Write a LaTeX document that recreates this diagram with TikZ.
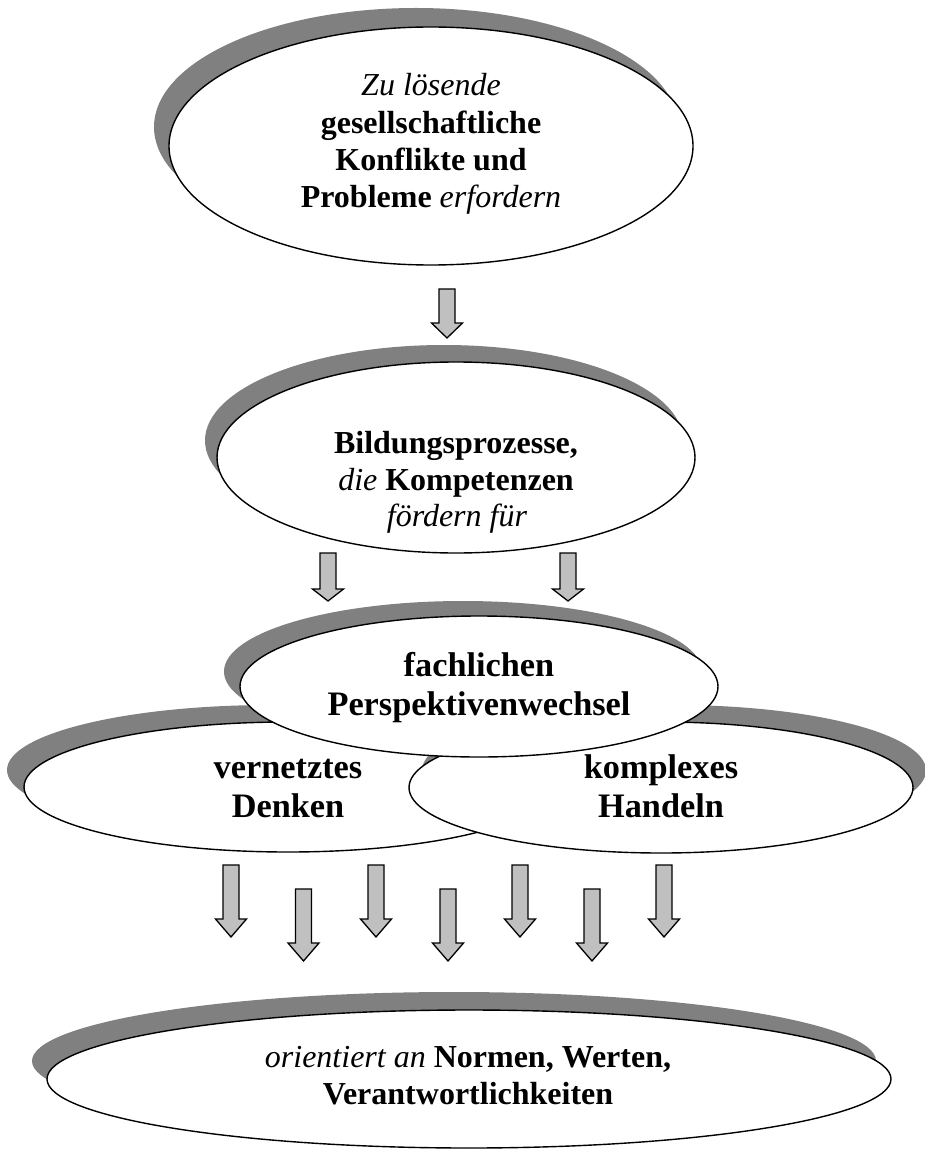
\documentclass[tikz,border=0pt]{standalone}
\usepackage{fontspec}
\setmainfont{Liberation Serif}
\usetikzlibrary{shapes.geometric,shadows}
\definecolor{shadowgray}{HTML}{808080}
\definecolor{arrowgray}{HTML}{C0C0C0}
\newcommand\blkarrow[4]{%
  \draw[blkarrowstyle] ({#1-8},#2) -- ({#1+8},#2) -- ({#1+8},#3) -- ({#1+15.5},#3)
    -- (#1,#4) -- ({#1-15.5},#3) -- ({#1-8},#3) -- cycle;}
\begin{document}
\begin{tikzpicture}[x=1pt,y=-1pt,
  oval/.style={ellipse, draw=black, line width=1.4pt, fill=white, inner sep=0pt, outer sep=0pt},
  shad/.style 2 args={drop shadow={shadow xshift=#1, shadow yshift=#2, opacity=1, fill=shadowgray}},
  lbl/.style={anchor=base, inner sep=0pt, font=\fontsize{32}{37}\selectfont},
  lblbig/.style={anchor=base, inner sep=0pt, font=\fontsize{34.3}{39}\selectfont},
  blkarrowstyle/.style={draw=black, fill=arrowgray, line width=1.3pt, line join=miter}]
\useasboundingbox (0,0) rectangle (925,1150);

% top ellipse
\node[oval, shad={-15pt}{19pt}, minimum width=524pt, minimum height=238pt] (e1) at (431,146) {};
\node[lbl] (t1a) at (431,96) {\textit{Zu lösende}};
\node[lbl] (t1b) at (431,133.5) {\textbf{gesellschaftliche}};
\node[lbl] (t1c) at (431,171) {\textbf{Konflikte und}};
\node[lbl] (t1d) at (431,208) {\textbf{Probleme} \textit{erfordern}};

\blkarrow{447}{289}{323}{338}

% second ellipse
\node[oval, shad={-12pt}{17pt}, minimum width=478pt, minimum height=191pt] (e2) at (456,457.5) {};
\node[lbl] (t2a) at (456,453) {\textbf{Bildungsprozesse,}};
\node[lbl] (t2b) at (456,490) {\textit{die} \textbf{Kompetenzen}};
\node[lbl] (t2c) at (457,526) {\textit{fördern für}};

\blkarrow{328}{553}{589}{601}
\blkarrow{568}{553}{589}{601}

% cluster
\node[oval, shad={-17pt}{17pt}, minimum width=528pt, minimum height=130pt] (e4) at (288,787) {};
\node[oval, shad={13pt}{17pt}, minimum width=504pt, minimum height=131pt] (e5) at (661,787.5) {};
\node[oval, shad={-16pt}{15pt}, minimum width=478pt, minimum height=141pt] (e3) at (479,686.5) {};
\node[lblbig] (t3a) at (479,676) {\textbf{fachlichen}};
\node[lblbig] (t3b) at (479,715) {\textbf{Perspektivenwechsel}};
\node[lblbig] (t4a) at (288,778) {\textbf{vernetztes}};
\node[lblbig] (t4b) at (288,817) {\textbf{Denken}};
\node[lblbig] (t5a) at (661,778) {\textbf{komplexes}};
\node[lblbig] (t5b) at (661,817) {\textbf{Handeln}};

\blkarrow{231}{865}{919}{937}
\blkarrow{376}{865}{919}{937}
\blkarrow{520}{865}{919}{937}
\blkarrow{664}{865}{919}{937}
\blkarrow{303.5}{889}{943}{961}
\blkarrow{448}{889}{943}{961}
\blkarrow{592}{889}{943}{961}

% bottom ellipse
\node[oval, shad={-15pt}{18pt}, minimum width=844pt, minimum height=138pt] (e6) at (469,1079) {};
\node[lbl] (t6a) at (468,1067.5) {\textit{orientiert an} \textbf{Normen, Werten,}};
\node[lbl] (t6b) at (468,1104) {\textbf{Verantwortlichkeiten}};
\end{tikzpicture}
\end{document}
